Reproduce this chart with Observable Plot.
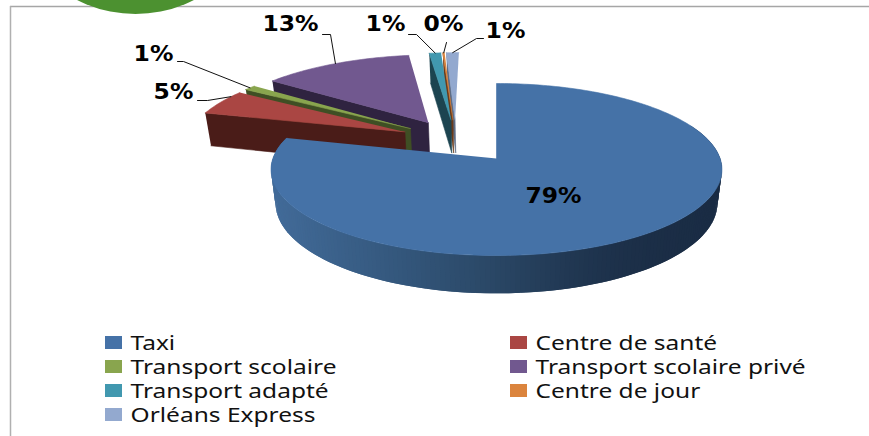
<!DOCTYPE html>
<html><head><meta charset="utf-8">
<script src="https://cdn.jsdelivr.net/npm/d3@7"></script>
<script src="https://cdn.jsdelivr.net/npm/@observablehq/plot@0.6"></script>
<style>html,body{margin:0;padding:0;background:#fff}svg{display:block}</style>
</head><body><div id="chart"></div>
<script>
// Data
const categories = ["Taxi","Centre de santé","Transport scolaire","Transport scolaire privé","Transport adapté","Centre de jour","Orléans Express"];
const shares = [79.0, 5.0, 1.0, 12.8, 1.0, 0.15, 1.05];
const colors = ["#4572a7","#aa4643","#89a54e","#71588f","#4198af","#db843d","#93a9cf"];
const sideColors = ["#1d3049","#4a1c18","#3f4f24","#2f2340","#1c4450","#6a3a1a","#5d6c85"];

// Layout of the 3D pie
const W = 869, H = 436;
const origin = [496, 158], Rx = 223.6, Ry = 84.6, persp = 0.128, explode = 0.26;
const groupShift = [-6, -1.5]; // the exploded slices sit slightly up and left of the model
const depth = {sx: 0.98, sy: 1.05, dy: 33, groupDy: 2};
const labelAt = [[553,196],[173,92],[153,54],[290,24],[385,24],[443,24],[505,31]];
const elbows = [null,[[197,100],[207,100]],[[177,61],[183,61]],[[322,34],[330,34]],[[408,34],[416,34]],[[446,42]],[[483,38],[476,38]]];
const rimShare = [null,0.78,0.5,0.5,0.5,0.5,0.5];

const total = d3.sum(shares);
let acc = 0;
const slices = shares.map((s,i)=>{const a0=acc/total*2*Math.PI; acc+=s; const a1=acc/total*2*Math.PI; return {i,a0,a1,mid:(a0+a1)/2};});
const dir = a => [Math.sin(a), -Math.cos(a)];
const base = dir(slices[0].mid);
const offsetOf = s => { const d = dir(s.mid); return [explode*(d[0]-base[0]), explode*(d[1]-base[1])]; };
const project = (u,v) => { const w = 1 - persp*v; return [Rx*u/w, Ry*v/w]; };
const ox = s => origin[0] + (s.i === 0 ? 0 : groupShift[0]);
const oy = s => origin[1] + (s.i === 0 ? 0 : groupShift[1]);
const topPt = (s,a,r=1) => { const o=offsetOf(s), d=dir(a); const p=project(o[0]+r*d[0], o[1]+r*d[1]); return [ox(s)+p[0], oy(s)+p[1]]; };
const botPt = (s,a,r=1) => { const o=offsetOf(s), d=dir(a); const p=project(o[0]+r*d[0], o[1]+r*d[1]); return [ox(s)+p[0]*depth.sx, oy(s)+p[1]*depth.sy+depth.dy+(s.i===0?0:depth.groupDy)]; };
const arc = (a0,a1,step=0.02) => { const n=Math.max(2,Math.ceil(Math.abs(a1-a0)/step)); return d3.range(n+1).map(k=>a0+(a1-a0)*k/n); };

const polys = [], wallPolys = [], taxiTop = [];
let pid = 0;
const addPoly = (list,pts,c) => { const id=pid++; pts.forEach(p=>list.push({x:p[0],y:p[1],id,c})); };
// back to front: smaller slices first, Taxi last
[6,5,4,3,2,1].forEach(i=>{
  const s = slices[i];
  addPoly(polys,[topPt(s,s.a0),topPt(s,s.a0,0),botPt(s,s.a0,0),botPt(s,s.a0)], sideColors[i]);
  addPoly(polys,[topPt(s,s.a0,0),...arc(s.a0,s.a1).map(a=>topPt(s,a))], colors[i]);
});
// Taxi wall, shaded along its length; each quad overlaps the next so no seams show
{
  const s = slices[0];
  const wall = d3.interpolateRgbBasis(["#1a2c44","#1b2e47","#2a4765","#35597f","#426b99"]);
  const as = arc(s.a1, 1.15, 0.02);
  as.slice(0,-1).forEach((a,k)=>{
    const b = as[Math.min(k+2,as.length-1)];
    const px = topPt(s,a)[0];
    const c = wall(Math.max(0,Math.min(1,(720-px)/450)));
    addPoly(wallPolys,[topPt(s,a),topPt(s,b),botPt(s,b),botPt(s,a)], c);
  });
  addPoly(taxiTop,[topPt(s,s.a0,0),...arc(s.a0,s.a1).map(a=>topPt(s,a))], colors[0]);
}

// Leader lines from each slice's rim through its elbow
const leaders = [];
slices.forEach((s,i)=>{
  if(!elbows[i]) return;
  const rim = topPt(s, s.a0+(s.a1-s.a0)*rimShare[i]);
  [...elbows[i],rim].forEach(p=>leaders.push({x:p[0],y:p[1],i}));
});

const labels = slices.map((s,i)=>({t:d3.format(".0%")(shares[i]/total),x:labelAt[i][0],y:labelAt[i][1]}));
const legend = categories.map((name,i)=>({name,c:colors[i],col:i%2,row:(i-i%2)/2}));
const colX = [105,510], rowY = 336, rowStep = 24;

const plot = Plot.plot({
  width:W,height:H,margin:0,
  style:{background:"#fff"},
  x:{axis:null,domain:[0,W],range:[0,W]},
  y:{axis:null,domain:[0,H],range:[0,H]},
  marks:[
    Plot.ruleY([6],{x1:10,x2:W,stroke:"#a6a6a6",strokeWidth:1.5}),
    Plot.ruleX([10],{y1:6,y2:H,stroke:"#b0b0b0",strokeWidth:1.5}),
    Plot.dot([[135,-115.5]],{x:d=>d[0],y:d=>d[1],r:129,fill:"#4c9130",stroke:"none"}),
    Plot.line(polys,{x:"x",y:"y",z:"id",fill:"c",stroke:"c",strokeWidth:0.6,curve:"linear"}),
    Plot.line(wallPolys,{x:"x",y:"y",z:"id",fill:"c",stroke:"none",curve:"linear"}),
    Plot.line(taxiTop,{x:"x",y:"y",z:"id",fill:"c",stroke:"c",strokeWidth:0.6,curve:"linear"}),
    Plot.line(leaders,{x:"x",y:"y",z:"i",stroke:"#111",strokeWidth:1}),
    Plot.text(labels,{x:"x",y:"y",text:"t",className:"pct",fontFamily:"DejaVu Sans",fontWeight:"bold",fontSize:21.5,fill:"#000",textAnchor:"middle",lineAnchor:"middle"}),
    Plot.rect(legend,{x1:d=>colX[d.col],x2:d=>colX[d.col]+17,y1:d=>rowY+d.row*rowStep,y2:d=>rowY+d.row*rowStep+13,fill:"c"}),
    Plot.text(legend,{x:d=>colX[d.col]+25,y:d=>rowY+7+d.row*rowStep,text:"name",className:"leg",fontFamily:"Noto Sans",fontSize:20,fill:"#111",textAnchor:"start",lineAnchor:"middle"})
  ]
});
document.getElementById("chart").append(plot);
// The reference's text is stretched sideways
const stretch = (sel,k) => plot.querySelectorAll(sel).forEach(t=>{
  t.setAttribute("textLength", t.getComputedTextLength()*k);
  t.setAttribute("lengthAdjust","spacingAndGlyphs");
});
stretch(".leg text",1.225);
stretch(".pct text",1.09);
</script></body></html>
